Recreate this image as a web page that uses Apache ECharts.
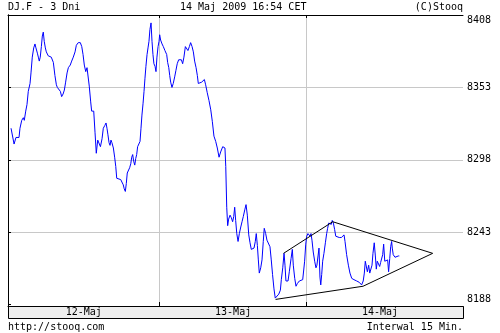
<!DOCTYPE html>
<html><head><meta charset="utf-8">
<script src="https://cdn.jsdelivr.net/npm/echarts@6/dist/echarts.min.js"></script>
<style>html,body{margin:0;padding:0;background:#fff}#c{width:500px;height:333px}</style>
</head><body><div id="c"></div><script>
// 15-minute bar index (x) and DJ.F price (y)
const dayNames = ['12-Maj', '13-Maj', '14-Maj'];
const dayStarts = [95, 187];
const dayCenters = [47.5, 141, 233];
const xRange = [0, 285];
const yRange = [8187, 8408];
const yTicks = [8188, 8243, 8298, 8353, 8408];

const timeIdx = [1.9,3.8,5.0,6.9,7.5,8.6,9.6,10.2,11.1,11.9,
12.7,13.8,14.4,15.2,16.1,16.9,17.5,18.4,19.0,19.6,
20.2,20.9,21.5,22.1,22.7,23.4,24.0,25.2,27.1,28.4,
29.4,30.3,30.9,31.9,32.8,33.6,34.5,35.3,36.1,37.0,
37.8,39.0,39.9,40.9,42.0,42.8,44.0,45.3,46.2,47.0,
47.8,48.7,49.5,50.1,50.9,51.8,52.4,53.7,54.5,55.3,
56.2,57.0,57.9,58.9,59.7,60.6,61.4,62.0,62.6,63.3,
63.9,64.5,65.1,66.0,66.8,67.5,68.1,69.1,70.6,71.6,
72.2,72.8,73.5,74.1,74.7,75.6,76.2,76.9,77.5,78.1,
78.7,79.4,80.0,80.6,81.2,82.1,82.7,83.3,83.9,84.6,
85.2,85.8,86.4,87.1,87.7,88.3,88.9,89.6,90.2,90.8,
91.4,92.1,92.7,93.3,94.0,94.6,95.0,95.6,96.5,97.3,
98.3,99.4,100.0,100.7,101.3,101.9,102.7,103.5,104.4,105.2,
106.0,106.9,107.7,108.6,109.4,110.2,111.1,111.9,112.7,113.6,
114.4,115.3,116.1,116.9,117.8,118.6,119.2,121.3,123.0,123.8,
124.8,125.9,127.0,128.0,129.0,130.1,131.1,132.2,133.2,134.5,
135.9,136.4,137.0,137.6,138.2,139.1,139.9,140.7,141.4,142.0,
142.6,143.3,144.1,144.9,145.8,146.6,147.4,148.3,149.1,149.9,
150.8,151.6,152.4,153.3,154.1,154.9,155.5,156.2,156.8,157.4,
158.3,159.1,159.9,160.5,161.4,162.2,163.3,164.1,164.9,165.7,
166.6,167.4,168.3,169.6,170.6,171.2,172.1,172.9,173.5,174.1,
175.4,176.2,177.3,178.1,178.7,179.6,180.4,181.2,182.5,183.7,
184.6,185.2,185.8,186.5,187.1,187.9,189.2,189.8,190.4,191.2,
192.1,192.9,193.5,194.2,194.8,195.4,195.9,196.5,197.1,197.9,
198.8,199.6,200.2,200.9,201.7,202.5,203.1,203.8,204.6,205.3,
206.3,207.5,208.8,209.6,210.5,211.1,212.1,213.2,214.2,215.3,
216.7,218.4,220.0,221.5,222.5,223.2,223.8,224.4,225.1,225.9,
226.6,227.4,228.0,228.6,229.4,230.1,230.7,231.3,232.2,232.8,
233.4,234.1,234.7,235.3,236.0,236.6,237.2,237.8,238.4,239.1,
239.7,240.3,240.7,241.3,242.4,243.5,244.5,245.1];

const price = [8322,8310,8315,8315,8322,8328,8330,8328,8335,8340,
8350,8356,8364,8376,8383,8386,8383,8379,8376,8373,
8376,8384,8392,8395,8388,8383,8380,8377,8376,8372,
8362,8355,8353,8354,8350,8346,8348,8351,8357,8364,
8368,8370,8373,8376,8380,8385,8387,8387,8384,8378,
8370,8365,8368,8369,8354,8342,8335,8335,8319,8303,
8313,8312,8308,8314,8322,8324,8326,8322,8317,8311,
8309,8313,8311,8307,8300,8293,8284,8284,8283,8282,
8279,8276,8274,8280,8288,8289,8292,8295,8300,8302,
8297,8294,8299,8302,8308,8309,8312,8322,8332,8341,
8350,8360,8369,8378,8383,8388,8397,8402,8388,8378,
8371,8369,8365,8376,8384,8388,8393,8389,8386,8384,
8381,8378,8372,8368,8362,8357,8353,8356,8361,8366,
8371,8374,8375,8374,8371,8376,8384,8383,8381,8384,
8387,8384,8380,8373,8368,8362,8356,8357,8359,8355,
8349,8343,8336,8327,8316,8312,8307,8300,8304,8308,
8307,8293,8262,8248,8253,8256,8254,8251,8255,8262,
8252,8242,8236,8242,8247,8251,8255,8260,8264,8256,
8241,8235,8230,8229,8231,8236,8242,8233,8222,8212,
8216,8222,8236,8246,8242,8237,8236,8232,8222,8211,
8200,8193,8192,8196,8199,8207,8216,8227,8218,8206,
8206,8213,8223,8230,8218,8208,8202,8204,8206,8207,
8207,8208,8221,8234,8240,8242,8240,8242,8237,8228,
8221,8216,8218,8225,8231,8209,8203,8211,8221,8227,
8235,8242,8246,8250,8251,8249,8252,8250,8245,8240,
8239,8239,8239,8239,8241,8236,8226,8218,8212,8208,
8207,8206,8205,8203,8206,8212,8221,8222,8213,8218,
8212,8211,8218,8227,8235,8225,8215,8221,8221,8217,
8220,8221,8226,8234,8221,8222,8220,8222,8213,8223,
8232,8236,8231,8226,8224,8224,8225,8225];

// pennant trend lines
const upperX = [172.6, 203.4, 266.0];
const upperY = [8227, 8251, 8227];
const lowerX = [167.6, 222.4, 266.0];
const lowerY = [8192, 8202, 8227];

const FONT = '"DejaVu Sans Mono", monospace';
const zip = (xs, ys) => xs.map((x, i) => [x, ys[i]]);

const chart = echarts.init(document.getElementById('c'), null, {renderer: 'canvas'});
const txt = (text, x, y, align) => ({
  type: 'text', x: x, y: y, silent: true,
  style: {text: text, fill: '#000', font: '10px ' + FONT,
          align: align, textAlign: align, verticalAlign: 'middle', textVerticalAlign: 'middle'}
});

chart.setOption({
  animation: false,
  backgroundColor: '#fff',
  grid: {left: 8, top: 15, width: 455, height: 291, containLabel: false},
  graphic: [
    {type: 'rect', silent: true, z: 0,
     shape: {x: 8.5, y: 306.5, width: 455, height: 12},
     style: {fill: '#eeeeee', stroke: '#000', lineWidth: 1}},
    txt('DJ.F - 3 Dni', 8, 7, 'left'),
    txt('14 Maj 2009 16:54 CET', 180, 7, 'left'),
    txt('(C)Stooq', 463, 7, 'right'),
    txt('http://stooq.com', 8, 327, 'left'),
    txt('Interwal 15 Min.', 463, 327, 'right')
  ],
  xAxis: [{
    type: 'value', position: 'bottom', min: xRange[0], max: xRange[1],
    axisLine: {show: true, lineStyle: {color: '#000', width: 1}},
    axisTick: {show: true, inside: true, length: 4, customValues: dayStarts, lineStyle: {color: '#000'}},
    splitLine: {show: true, lineStyle: {color: '#c8c8c8', width: 1}},
    axisLabel: {show: true, customValues: dayCenters, margin: 1, color: '#000',
      fontFamily: FONT, fontSize: 10,
      formatter: v => { const i = dayCenters.indexOf(v); return i >= 0 ? dayNames[i] : ''; }}
  }, {
    type: 'value', position: 'top', min: xRange[0], max: xRange[1],
    axisLine: {show: true, lineStyle: {color: '#000', width: 1}},
    axisTick: {show: true, inside: true, length: 3, customValues: dayStarts, lineStyle: {color: '#000'}},
    splitLine: {show: false}, axisLabel: {show: false}
  }],
  yAxis: [{
    type: 'value', position: 'right', min: yRange[0], max: yRange[1],
    axisLine: {show: true, lineStyle: {color: '#000', width: 1}},
    axisTick: {show: true, inside: false, length: 3, customValues: yTicks, lineStyle: {color: '#000'}},
    splitLine: {show: true, showMinLine: false, showMaxLine: false, lineStyle: {color: '#c8c8c8', width: 1}},
    axisLabel: {show: true, customValues: yTicks, margin: 4, color: '#000',
      fontFamily: FONT, fontSize: 10, formatter: v => String(v),
      verticalAlignMaxLabel: 'top', verticalAlignMinLabel: 'bottom'}
  }, {
    type: 'value', position: 'left', min: yRange[0], max: yRange[1],
    axisLine: {show: true, lineStyle: {color: '#000', width: 1}},
    axisTick: {show: false}, splitLine: {show: false}, axisLabel: {show: false}
  }],
  series: [{
    type: 'line', data: zip(timeIdx, price), showSymbol: false, symbol: 'none',
    lineStyle: {color: '#0000ff', width: 1}, itemStyle: {color: '#0000ff'}, z: 3
  }, {
    type: 'line', data: zip(upperX, upperY), showSymbol: false, symbol: 'none',
    lineStyle: {color: '#000', width: 1}, z: 4
  }, {
    type: 'line', data: zip(lowerX, lowerY), showSymbol: false, symbol: 'none',
    lineStyle: {color: '#000', width: 1}, z: 4
  }]
});
</script></body></html>
